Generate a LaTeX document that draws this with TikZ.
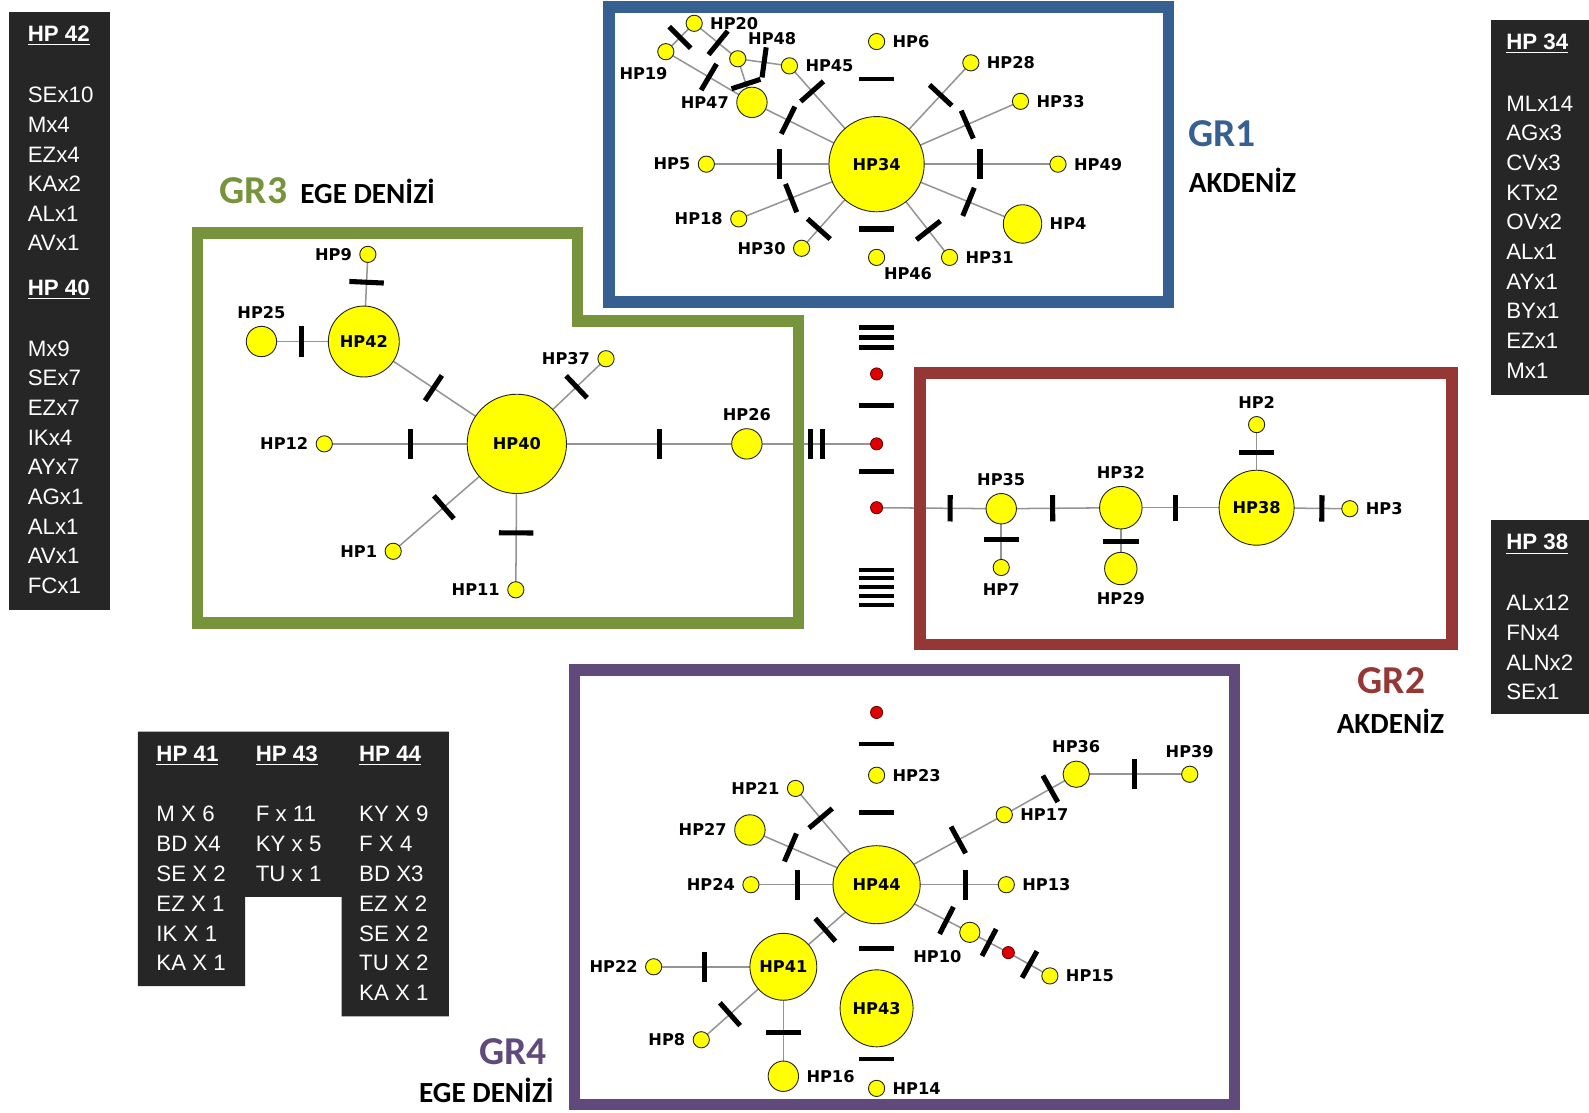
\documentclass[tikz,border=0pt]{standalone}
\usepackage{fontspec}
\setmainfont{Liberation Sans}
\newfontfamily\hpfam{DejaVu Sans}
\newfontfamily\grfam{Carlito}
\usetikzlibrary{shapes.geometric,backgrounds}

\definecolor{gronec}{HTML}{376092}
\definecolor{grtwoc}{HTML}{953735}
\definecolor{grthreec}{HTML}{77933C}
\definecolor{grfourc}{HTML}{604A7B}
\definecolor{panelbg}{HTML}{262626}
\definecolor{hpyellow}{HTML}{FFFF00}
\definecolor{dotred}{HTML}{E00000}

\newcommand{\hpfont}{\hpfam\bfseries\fontsize{8}{9}\selectfont}

\begin{document}
\begin{tikzpicture}[x=0.5pt, y=-0.5pt,
    hp/.style={circle, draw=black!85, line width=0.45pt, fill=hpyellow, inner sep=0pt, minimum size=#1, font=\hpfont},
    hp/.default=8pt,
    lab/.style={font=\hpfont, inner sep=0.5pt},
    label distance=3pt,
    vdot/.style={circle, draw=red!40!black, line width=0.4pt, fill=dotred, inner sep=0pt, minimum size=6pt},
    edge/.style={draw=black!42, line width=0.75pt},
    mut/.style={fill=black, inner sep=0pt, minimum width=2.5pt, minimum height=15pt, sloped},
    hbar/.style={fill=black, inner sep=0pt, minimum width=17pt, minimum height=2.3pt},
    frame/.style={line width=5.75pt},
    ptext/.style={text=white, anchor=west, inner sep=0pt, font=\fontsize{11}{12}\selectfont},
    phead/.style={ptext, font=\fontsize{11}{12}\selectfont\bfseries},
    grlab/.style={inner sep=0pt, font=\grfam\bfseries\fontsize{19.5}{20}\selectfont},
    sealab/.style={inner sep=0pt, font=\grfam\bfseries\fontsize{14.4}{16}\selectfont}]
  \useasboundingbox (0,0) rectangle (1568,1098);

  % Frames of the four groups
  \draw[frame, gronec] (601,7) rectangle (1153,298);
  \draw[frame, grthreec] (195,230) -- (570,230) -- (570,317) -- (788,317) -- (788,615) -- (195,615) -- cycle;
  \draw[frame, grtwoc] (908,368) rectangle (1433,636);
  \draw[frame, grfourc] (567,661) rectangle (1218,1090);

  % GR1
  \node[hp=47pt] (hp34) at (865,162) {HP34};
  \node[hp, label={[lab]right:HP20}] (hp20) at (685,23) {};
  \node[hp, label={[lab, xshift=-11pt]below:HP19}] (hp19) at (657,51) {};
  \node[hp, label={[lab, xshift=17pt, yshift=-1pt]above:HP48}] (hp48) at (728,58) {};
  \node[hp, label={[lab]right:HP45}] (hp45) at (779,65) {};
  \node[hp=15pt, label={[lab]left:HP47}] (hp47) at (742,101) {};
  \node[hp, label={[lab]right:HP6}] (hp6) at (865,41) {};
  \node[hp, label={[lab]right:HP28}] (hp28) at (958,62) {};
  \node[hp, label={[lab]right:HP33}] (hp33) at (1007,100) {};
  \node[hp, label={[lab]right:HP49}] (hp49) at (1044,162) {};
  \node[hp=19pt, label={[lab]right:HP4}] (hp4) at (1009,221) {};
  \node[hp, label={[lab]right:HP31}] (hp31) at (937,254) {};
  \node[hp, label={[lab, xshift=15.5pt, yshift=3pt]below:HP46}] (hp46) at (865,254) {};
  \node[hp, label={[lab]left:HP30}] (hp30) at (791,245) {};
  \node[hp, label={[lab]left:HP18}] (hp18) at (729,216) {};
  \node[hp, label={[lab]left:HP5}] (hp5) at (697,162) {};
  \node[hbar, minimum height=2pt] (b6) at (865,78) {};
  \node[hbar, minimum height=3.2pt] (b46) at (865,226) {};

  % GR3
  \node[hp=49pt] (hp40) at (510,438) {HP40};
  \node[hp=35pt] (hp42) at (359,337) {HP42};
  \node[hp, label={[lab]left:HP9}] (hp9) at (363,251) {};
  \node[hp=15pt, label={[lab]above:HP25}] (hp25) at (258,337) {};
  \node[hp, label={[lab]left:HP37}] (hp37) at (598,354) {};
  \node[hp=15pt, label={[lab]above:HP26}] (hp26) at (737,438) {};
  \node[hp, label={[lab]left:HP12}] (hp12) at (320,438) {};
  \node[hp, label={[lab]left:HP1}] (hp1) at (388,544) {};
  \node[hp, label={[lab]left:HP11}] (hp11) at (509,582) {};

  % Median column between the groups
  \foreach \y [count=\i] in {323,333,343}
    \node[hbar] (tb\i) at (865,\y) {};
  \node[vdot] (d1) at (865,369) {};
  \node[hbar] (cb1) at (865,400) {};
  \node[vdot] (d2) at (865,438) {};
  \node[hbar] (cb2) at (865,465) {};
  \node[vdot] (d3) at (865,501) {};
  \foreach \i in {0,...,4}
    \node[hbar, minimum height=2pt] (lb\i) at (865,{562+8.7*\i}) {};

  % GR2
  \node[hp=15pt, label={[lab]above:HP35}] (hp35) at (988,502) {};
  \node[hp, label={[lab]below:HP7}] (hp7) at (988,560) {};
  \node[hp=21pt, label={[lab]above:HP32}] (hp32) at (1106,501) {};
  \node[hp=16pt, label={[lab]below:HP29}] (hp29) at (1106,561) {};
  \node[hp=37pt] (hp38) at (1240,501) {HP38};
  \node[hp, label={[lab]above:HP2}] (hp2) at (1240,419) {};
  \node[hp, label={[lab]right:HP3}] (hp3) at (1332,502) {};

  % GR4
  \node[vdot] (d4) at (865,703) {};
  \node[hbar] (gb1) at (865,734) {};
  \node[hp, label={[lab]right:HP23}] (hp23) at (865,765) {};
  \node[hbar] (gb2) at (865,802) {};
  \node[hp, ellipse, minimum width=43pt, minimum height=38.5pt] (hp44) at (865,873) {HP44};
  \node[hp, label={[lab]left:HP21}] (hp21) at (785,778) {};
  \node[hp=15pt, label={[lab]left:HP27}] (hp27) at (740,819) {};
  \node[hp, label={[lab]left:HP24}] (hp24) at (741,873) {};
  \node[hp, label={[lab]right:HP13}] (hp13) at (993,873) {};
  \node[hp, label={[lab]right:HP17}] (hp17) at (991,804) {};
  \node[hp=13pt, label={[lab]above:HP36}] (hp36) at (1062,764) {};
  \node[hp, label={[lab]above:HP39}] (hp39) at (1174,764) {};
  \node[hp=10pt, label={[lab, xshift=-16pt]below:HP10}] (hp10) at (957,920) {};
  \node[vdot] (d5) at (995,940) {};
  \node[hp, label={[lab]right:HP15}] (hp15) at (1036,963) {};
  \node[hbar] (gb3) at (865,936) {};
  \node[hp=33pt] (hp41) at (773,954) {HP41};
  \node[hp, ellipse, minimum width=36pt, minimum height=38pt] (hp43) at (865,995) {HP43};
  \node[hp, label={[lab]left:HP22}] (hp22) at (645,954) {};
  \node[hp, label={[lab]left:HP8}] (hp8) at (692,1026) {};
  \node[hp=15pt, label={[lab]right:HP16}] (hp16) at (773,1062) {};
  \node[hbar] (gb4) at (865,1045) {};
  \node[hp, label={[lab]right:HP14}] (hp14) at (865,1074) {};

  % Connections with mutation marks
  \begin{scope}[on background layer]
    \draw[edge] (hp34.center) -- node[mut, pos=.74] (m1) {} (hp45.center);
    \draw[edge] (hp34.center) -- node[mut, pos=.71] (m2) {} (hp47.center);
    \draw[edge] (hp34.center) -- node[mut, pos=.57] (m3) {} (hp5.center);
    \draw[edge] (hp34.center) -- node[mut, pos=.62] (m4) {} (hp18.center);
    \draw[edge] (hp34.center) -- node[mut, pos=.77] (m5) {} (hp30.center);
    \draw[edge] (hp34.center) -- node[mut, pos=.71] (m6) {} (hp31.center);
    \draw[edge] (hp34.center) -- node[mut, pos=.63] (m7) {} (hp4.center);
    \draw[edge] (hp34.center) -- node[mut, pos=.57] (m8) {} (hp49.center);
    \draw[edge] (hp34.center) -- node[mut, pos=.63] (m9) {} (hp33.center);
    \draw[edge] (hp34.center) -- node[mut, pos=.68] (m10) {} (hp28.center);
    \draw[edge] (hp19.center) -- node[mut, pos=.5] (m11) {} (hp20.center);
    \draw[edge] (hp20.center) -- node[mut, pos=.55] (m12) {} (hp48.center);
    \draw[edge] (hp19.center) -- node[mut, pos=.5] (m13) {} (hp47.center);
    \draw[edge] (hp48.center) -- node[mut, pos=.51] (m14) {} (hp45.center);
    \draw[edge] (hp48.center) -- node[mut, pos=.58] (m15) {} (hp47.center);

    \draw[edge] (hp40.center) -- node[mut, pos=.545] (m16) {} (hp42.center);
    \draw[edge] (hp40.center) -- node[mut, pos=.67] (m17) {} (hp37.center);
    \draw[edge] (hp40.center) -- node[mut, pos=.55] (m18) {} (hp12.center);
    \draw[edge] (hp40.center) -- node[mut, pos=.62] (m19) {} (hp26.center);
    \draw[edge] (hp40.center) -- node[mut, pos=.59] (m20) {} (hp1.center);
    \draw[edge] (hp40.center) -- node[mut, pos=.61, minimum height=17pt] (m21) {} (hp11.center);
    \draw[edge] (hp42.center) -- node[mut, pos=.68, minimum height=17pt] (m22) {} (hp9.center);
    \draw[edge] (hp42.center) -- node[mut, pos=.61] (m23) {} (hp25.center);
    \draw[edge] (hp26.center) -- node[mut, pos=.49] (m24) {} node[mut, pos=.585] (m25) {} (d2.center);

    \draw[edge] (d3.center) -- node[mut, pos=.59, minimum height=13pt] (m26) {} (hp35.center);
    \draw[edge] (hp35.center) -- node[mut, pos=.43, minimum height=13pt] (m27) {} (hp32.center);
    \draw[edge] (hp32.center) -- node[mut, pos=.40, minimum height=13pt] (m28) {} (hp38.center);
    \draw[edge] (hp38.center) -- node[mut, pos=.70, minimum height=13pt] (m29) {} (hp3.center);
    \draw[edge] (hp35.center) -- node[mut, pos=.52, minimum height=17.5pt] (m30) {} (hp7.center);
    \draw[edge] (hp32.center) -- node[mut, pos=.56, minimum height=17.5pt] (m31) {} (hp29.center);
    \draw[edge] (hp38.center) -- node[mut, pos=.66, minimum height=17.5pt] (m32) {} (hp2.center);

    \draw[edge] (hp44.center) -- node[mut, pos=.69] (m33) {} (hp21.center);
    \draw[edge] (hp44.center) -- node[mut, pos=.68] (m34) {} (hp27.center);
    \draw[edge] (hp44.center) -- node[mut, pos=.63] (m35) {} (hp24.center);
    \draw[edge] (hp44.center) -- node[mut, pos=.685] (m36) {} (hp13.center);
    \draw[edge] (hp44.center) -- node[mut, pos=.64] (m37) {} (hp17.center);
    \draw[edge] (hp44.center) -- node[mut, pos=.75] (m38) {} (hp10.center);
    \draw[edge] (hp44.center) -- node[mut, pos=.55] (m39) {} (hp41.center);
    \draw[edge] (hp17.center) -- node[mut, pos=.64] (m40) {} (hp36.center);
    \draw[edge] (hp36.center) -- node[mut, pos=.51] (m41) {} (hp39.center);
    \draw[edge] (hp10.center) -- node[mut, pos=.5] (m42) {} (d5.center);
    \draw[edge] (d5.center) -- node[mut, pos=.51] (m43) {} (hp15.center);
    \draw[edge] (hp41.center) -- node[mut, pos=.61] (m44) {} (hp22.center);
    \draw[edge] (hp41.center) -- node[mut, pos=.65] (m45) {} (hp8.center);
    \draw[edge] (hp41.center) -- node[mut, pos=.6, minimum height=17.5pt] (m46) {} (hp16.center);
  \end{scope}

  % Group titles
  \node[grlab, text=grthreec] (gr3) at (250,188) {GR3};
  \node[sealab, anchor=west] (sea3) at (296,189) {EGE DENİZİ};
  \node[grlab, text=gronec] (gr1) at (1206,132) {GR1};
  \node[sealab] (sea1) at (1226,178) {AKDENİZ};
  \node[grlab, text=grtwoc] (gr2) at (1373,672) {GR2};
  \node[sealab] (sea2) at (1372,712) {AKDENİZ};
  \node[grlab, text=grfourc] (gr4) at (506,1038) {GR4};
  \node[sealab] (sea4) at (480,1076) {EGE DENİZİ};

  % Haplotype frequency panels
  \fill[panelbg] (9,12) rectangle (109,602);
  \node[phead] (h42) at (27,35) {\underline{HP 42}};
  \foreach \t [count=\i from 0] in {SEx10,Mx4,EZx4,KAx2,ALx1,AVx1}
    \node[ptext] (pa\i) at (27,{94+29.2*\i}) {\t};
  \node[phead] (h40) at (27,286) {\underline{HP 40}};
  \foreach \t [count=\i from 0] in {Mx9,SEx7,EZx7,IKx4,AYx7,AGx1,ALx1,AVx1,FCx1}
    \node[ptext] (pb\i) at (27,{344+29.25*\i}) {\t};

  \fill[panelbg] (1471,20) rectangle (1568,390);
  \node[phead] (h34) at (1486,43) {\underline{HP 34}};
  \foreach \t [count=\i from 0] in {MLx14,AGx3,CVx3,KTx2,OVx2,ALx1,AYx1,BYx1,EZx1,Mx1}
    \node[ptext] (pc\i) at (1486,{102+29.3*\i}) {\t};

  \fill[panelbg] (1471,513) rectangle (1568,705);
  \node[phead] (h38) at (1486,537) {\underline{HP 38}};
  \foreach \t [count=\i from 0] in {ALx12,FNx4,ALNx2,SEx1}
    \node[ptext] (pd\i) at (1486,{595+29.3*\i}) {\t};

  \fill[panelbg] (136,722) -- (443,722) -- (443,1003) -- (337,1003) -- (337,885)
    -- (242,885) -- (242,973) -- (136,973) -- cycle;
  \node[phead] (h41) at (154,746) {\underline{HP 41}};
  \node[phead] (h43) at (252,746) {\underline{HP 43}};
  \node[phead] (h44) at (354,746) {\underline{HP 44}};
  \foreach \t [count=\i from 0] in {M X 6,BD X4,SE X 2,EZ X 1,IK X 1,KA X 1}
    \node[ptext] (pe\i) at (154,{803+29.5*\i}) {\t};
  \foreach \t [count=\i from 0] in {F x 11,KY x 5,TU x 1}
    \node[ptext] (pf\i) at (252,{803+29.5*\i}) {\t};
  \foreach \t [count=\i from 0] in {KY X 9,F X 4,BD X3,EZ X 2,SE X 2,TU X 2,KA X 1}
    \node[ptext] (pg\i) at (354,{803+29.5*\i}) {\t};
\end{tikzpicture}
\end{document}
